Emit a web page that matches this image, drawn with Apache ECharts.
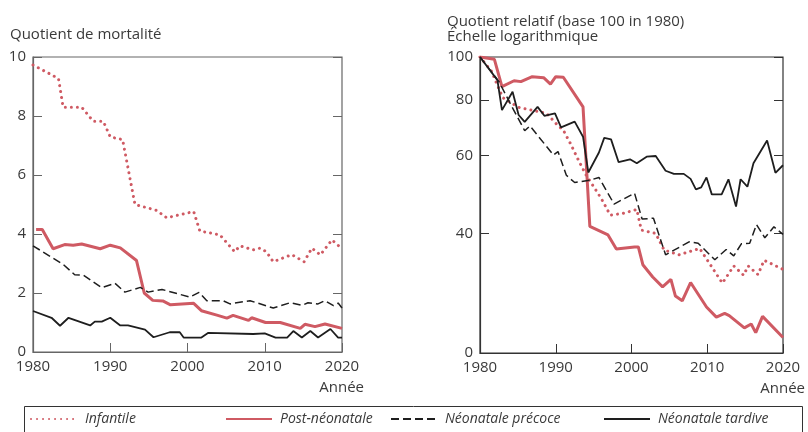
<!DOCTYPE html>
<html>
<head>
<meta charset="utf-8">
<script src="https://cdn.jsdelivr.net/npm/echarts@6/dist/echarts.min.js"></script>
<style>
    html, body { margin: 0; padding: 0; background: #fff; }
    #chart { width: 808px; height: 432px; }
</style>
</head>
<body>
<div id="chart"></div>
<script>
// names of the four series (legend order)
const seriesNames = ['Infantile', 'Post-néonatale', 'Néonatale précoce', 'Néonatale tardive'];

// left panel: quotient de mortalité, [année, valeur]
const leftInfantile = [[1980,9.73],[1983.3,9.27],[1983.9,8.3],[1986.3,8.3],[1987.8,7.82],[1989.1,7.82],[1990.0,7.29],[1991.6,7.2],[1993.2,5.0],[1996.0,4.8],[1997.3,4.55],[2000.8,4.76],[2001.6,4.1],[2004.2,3.97],[2006.1,3.4],[2006.8,3.6],[2008.5,3.46],[2009.4,3.52],[2010.2,3.4],[2011.1,3.06],[2013.5,3.3],[2015.1,3.06],[2016.1,3.52],[2017.2,3.29],[2018.7,3.8],[2020,3.5]];
const leftPostNeo = [[1980.4,4.15],[1981.2,4.15],[1982.6,3.5],[1984.1,3.64],[1985.2,3.62],[1986.3,3.66],[1988.7,3.5],[1990.0,3.62],[1991.3,3.53],[1993.4,3.1],[1994.4,2.0],[1995.5,1.75],[1996.8,1.73],[1997.8,1.6],[2000.8,1.65],[2001.8,1.4],[2003.8,1.25],[2005.1,1.15],[2005.9,1.24],[2007.9,1.07],[2008.3,1.16],[2010.1,1.0],[2012,1.0],[2014.6,0.8],[2015.2,0.94],[2016.5,0.86],[2017.8,0.95],[2020,0.8]];
const leftEarly = [[1980,3.6],[1983.9,2.97],[1985.4,2.62],[1986.5,2.61],[1988.9,2.18],[1990.6,2.33],[1991.9,2.03],[1993.9,2.19],[1994.9,2.03],[1996.7,2.12],[2000.3,1.86],[2001.5,2.02],[2002.5,1.74],[2004.6,1.74],[2005.5,1.63],[2008.1,1.74],[2011.1,1.49],[2013.3,1.67],[2014.8,1.58],[2015.6,1.67],[2016.9,1.63],[2017.8,1.74],[2018.9,1.57],[2019.5,1.66],[2020,1.49]];
const leftLate = [[1980,1.39],[1982.4,1.16],[1983.5,0.89],[1984.6,1.16],[1987.4,0.9],[1988,1.03],[1988.9,1.03],[1990,1.16],[1991.3,0.9],[1992.3,0.9],[1994.5,0.76],[1995.6,0.5],[1997.7,0.67],[1999,0.67],[1999.5,0.49],[2001.8,0.49],[2002.7,0.65],[2008.5,0.61],[2010,0.63],[2011.4,0.49],[2012.9,0.49],[2013.7,0.71],[2014.8,0.49],[2015.9,0.71],[2016.9,0.49],[2018.5,0.78],[2019.5,0.49],[2020,0.49]];

// right panel: quotient relatif (base 100 en 1980), échelle log
const rightInfantile = [[1980,100],[1981.5,93],[1983,81],[1985.1,77],[1988.8,74.6],[1990.3,70],[1991,68.4],[1992,63.5],[1993,58.5],[1994,54.2],[1995,51],[1996,48],[1997.2,44],[1998.9,44.4],[2000.7,45.3],[2001.3,40.7],[2003.2,40],[2004.3,36.7],[2006.3,35.8],[2009,37],[2012,30.9],[2013.5,33.8],[2014.8,32.2],[2015.4,33.8],[2016.7,32.3],[2017.5,34.8],[2020,33.2]];
const rightPostNeo = [[1980,100],[1981.9,98.8],[1982.9,85.7],[1984.5,88.4],[1985.4,88],[1986.9,90.3],[1988.4,89.8],[1989.3,86.9],[1990,90.3],[1991,90],[1993.6,77.2],[1994.5,41.5],[1996.9,39.7],[1998,36.9],[2000.4,37.3],[2000.9,37.3],[2001.5,34],[2002.8,31.9],[2004.1,30.3],[2005.2,31.5],[2005.8,28.9],[2006.7,28.2],[2007.8,31],[2009.9,27.3],[2011.2,25.9],[2012.3,26.4],[2012.9,26.1],[2014.9,24.5],[2015.8,25],[2016.4,23.9],[2017.3,26],[2020,23.3]];
const rightEarly = [[1980,100],[1982.5,88],[1984,78.5],[1985.9,68.2],[1986.6,69.9],[1989.7,60.1],[1990.3,61.2],[1991.4,54.1],[1992.5,52.1],[1994.6,52.8],[1995.7,53.5],[1997.7,46.6],[2000.4,49.3],[2001.4,43.1],[2002.9,43.3],[2004.5,35.8],[2007.6,38.3],[2008.8,38],[2011,34.9],[2012.5,36.8],[2013.5,35.6],[2014.5,37.9],[2015.6,38],[2016.5,41.9],[2017.6,39.1],[2018.8,41.4],[2020,39.8]];
const rightLate = [[1980,100],[1982.3,88.7],[1982.9,75.9],[1984.3,83.5],[1985.1,74],[1985.9,71.4],[1987.6,77.2],[1988.5,73.7],[1989.9,74.6],[1990.7,69.4],[1992.5,71.5],[1993.6,66.1],[1994.3,54.9],[1995.7,60.9],[1996.4,65.7],[1997.3,65.2],[1998.3,57.9],[1999.8,58.8],[2000.7,57.6],[2002,59.6],[2003.2,59.8],[2004.5,55.4],[2005.6,54.5],[2006.9,54.5],[2007.8,53.1],[2008.5,50.3],[2009.2,50.8],[2009.9,53.5],[2010.6,49],[2011.9,49],[2012.8,53],[2013.8,46],[2014.4,53],[2015.3,51],[2016.1,57.6],[2017.9,64.8],[2019,54.8],[2020,57]];

// tick labels
const leftYTicks = [0, 2, 4, 6, 8, 10];
const rightYTicks = [40, 60, 80, 100];
const rightYBottom = 21.5;   // bas de l'axe log, affiché "0"

const font = '"Open Sans", "DejaVu Sans", sans-serif';
const textColor = '#3a3a3a';
const red = '#cf5a63';
const black = '#1e1e1e';

const styles = [
    { color: red, width: 3, type: [0.01, 6], cap: 'round' },
    { color: red, width: 3, type: 'solid' },
    { color: black, width: 1.5, type: [8, 4] },
    { color: black, width: 1.8, type: 'solid' }
];

// legend columns (left edge of each swatch)
const legendLefts = [30, 225, 390, 603];

let chart = echarts.init(document.getElementById('chart'), null, { renderer: 'canvas' });

function makeSeries(name, idx, data, axisIdx){
    return {
        name: name,
        type: 'line',
        xAxisIndex: axisIdx,
        yAxisIndex: axisIdx * 2,
        symbol: 'none',
        animation: false,
        lineStyle: styles[idx],
        itemStyle: { color: styles[idx].color },
        data: data
    };
}

const leftData = [leftInfantile, leftPostNeo, leftEarly, leftLate];
const rightData = [rightInfantile, rightPostNeo, rightEarly, rightLate];
let series = [];
seriesNames.forEach((n, i) => series.push(makeSeries(n, i, leftData[i], 0)));
seriesNames.forEach((n, i) => series.push(makeSeries(n, i, rightData[i], 1)));

// one legend per column, the frame is drawn as a graphic
let legends = seriesNames.map((n, i) => ({
    data: [n],
    left: legendLefts[i],
    top: 412,
    padding: 0,
    itemWidth: 46,
    itemHeight: 14,
    itemStyle: { opacity: 0 },
    textStyle: { color: textColor, fontSize: 14, fontStyle: 'italic', fontFamily: font, padding: [0, 0, 0, 3] }
}));

function xAxisOf(gridIndex, axisColor){
    return {
        type: 'value',
        gridIndex: gridIndex,
        min: 1980,
        max: 2020,
        interval: 10,
        axisLine: { lineStyle: { color: axisColor, width: 1.2 } },
        axisTick: { inside: true, length: 9, lineStyle: { color: axisColor } },
        axisLabel: { color: textColor, fontSize: 15, fontFamily: font, margin: 7, formatter: (v) => String(v) },
        splitLine: { show: false },
        name: 'Année',
        nameLocation: 'end',
        nameGap: 0,
        nameTextStyle: { color: textColor, fontSize: 15, fontFamily: font, align: 'right', verticalAlign: 'top', padding: [28, -22, 0, 0] }
    };
}

let option = {
    animation: false,
    title: [
        { text: 'Quotient de mortalité', left: 5, top: 22, textStyle: { color: textColor, fontSize: 15, fontWeight: 'normal', fontFamily: font } },
        { text: 'Quotient relatif (base 100 in 1980)\nÉchelle logarithmique', left: 442, top: 9, textStyle: { color: textColor, fontSize: 15, lineHeight: 15, fontWeight: 'normal', fontFamily: font } }
    ],
    legend: legends,
    graphic: [{
        type: 'rect',
        left: 22,
        top: 404,
        shape: { width: 778, height: 27 },
        style: { fill: 'none', stroke: '#333', lineWidth: 1 },
        silent: true
    }],
    grid: [
        { left: 33, top: 57, width: 309, height: 295, show: true, borderColor: '#666', borderWidth: 1.2 },
        { left: 480, top: 57, width: 309, height: 296, show: true, borderColor: '#333', borderWidth: 1.2 }
    ],
    xAxis: [ xAxisOf(0, '#666'), xAxisOf(1, '#333') ],
    yAxis: [
        {
            type: 'value', gridIndex: 0, min: 0, max: 10, interval: 2,
            axisLine: { show: true, lineStyle: { color: '#666', width: 1.2 } },
            axisTick: { inside: true, length: 9, lineStyle: { color: '#666' } },
            axisLabel: { color: textColor, fontSize: 15, fontFamily: font, margin: 7, customValues: leftYTicks },
            splitLine: { show: false }
        },
        {
            type: 'value', gridIndex: 0, min: 0, max: 10, interval: 2, position: 'right',
            axisLine: { show: false },
            axisTick: { inside: true, length: 9, lineStyle: { color: '#666' } },
            axisLabel: { show: false },
            splitLine: { show: false }
        },
        {
            type: 'log', gridIndex: 1, logBase: 10, min: rightYBottom, max: 100,
            axisLine: { show: true, lineStyle: { color: '#333', width: 1.2 } },
            axisTick: { inside: true, length: 9, lineStyle: { color: '#333' }, customValues: rightYTicks },
            axisLabel: {
                color: textColor, fontSize: 15, fontFamily: font, margin: 7,
                customValues: [rightYBottom].concat(rightYTicks),
                formatter: (v) => v < 30 ? '0' : Math.round(v) + ''
            },
            splitLine: { show: false }
        },
        {
            type: 'log', gridIndex: 1, logBase: 10, min: rightYBottom, max: 100, position: 'right',
            axisLine: { show: false },
            axisTick: { inside: true, length: 9, lineStyle: { color: '#333' }, customValues: rightYTicks },
            axisLabel: { show: false },
            splitLine: { show: false }
        }
    ],
    series: series
};

chart.setOption(option);
</script>
</body>
</html>
